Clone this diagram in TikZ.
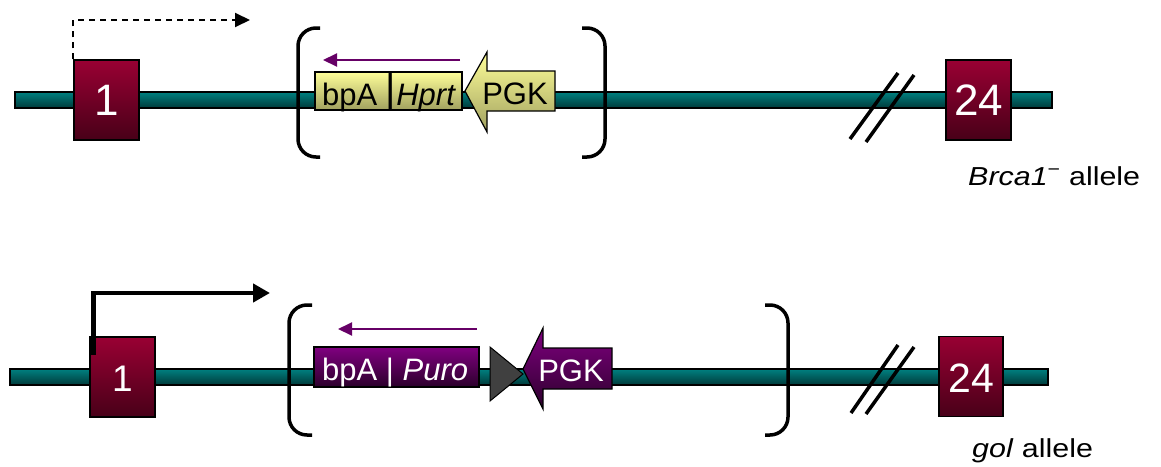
\documentclass[tikz,border=0pt]{standalone}
\usepackage{fontspec}
\usepackage{graphicx}
\setmainfont{Liberation Sans}
\usetikzlibrary{arrows.meta}
\definecolor{tealA}{RGB}{0,128,128}
\definecolor{tealB}{RGB}{0,58,58}
\definecolor{exA}{RGB}{153,0,51}
\definecolor{exB}{RGB}{72,0,24}
\definecolor{yelA}{RGB}{255,255,153}
\definecolor{yelB}{RGB}{160,160,95}
\definecolor{purA}{RGB}{128,0,128}
\definecolor{purB}{RGB}{43,0,43}
\definecolor{arrpur}{RGB}{102,0,102}
\definecolor{loxgray}{RGB}{64,64,64}
\newcommand{\fsz}[1]{\fontsize{#1}{#1}\selectfont}
\begin{document}
\begin{tikzpicture}[x=1pt,y=-1pt,
  dna/.style={draw=black, line width=1.5pt, top color=tealA, bottom color=tealB, inner sep=0, minimum height=16pt},
  exon/.style={draw=black, line width=1.5pt, top color=exA, bottom color=exB, inner sep=0, minimum width=65pt, minimum height=80pt},
  exnum/.style={text=white, inner sep=0},
  bracketline/.style={line width=3.5pt, rounded corners=18pt},
  slashline/.style={line width=3.5pt},
  yelbox/.style={draw=black, line width=1.2pt, top color=yelA, bottom color=yelB, inner sep=0},
  purbox/.style={draw=black, line width=1.2pt, top color=purA, bottom color=purB, inner sep=0},
  purarrow/.style={draw=arrpur, line width=2pt, -{Triangle[length=14pt,width=13pt]}},
  boxtext/.style={anchor=base west, inner sep=0},
  labeltext/.style={anchor=base west, inner sep=0},
]
\useasboundingbox (0,0) rectangle (1161,466);

% ---------------- Top allele ----------------
\node[dna, minimum width=1037pt] (dnaA) at (533.5,100) {};
\node[exon] (ex1a) at (106.5,100) {};
\node[exnum] (n1a) at (106.5,100) {\fsz{44}1};
\node[exon] (ex24a) at (978.5,100) {};
\node[exnum] (n24a) at (978.5,100) {\fsz{44}24};

\coordinate (tipA) at (250,20);
\draw[line width=2pt, dash pattern=on 6pt off 5pt, -{Triangle[length=15pt,width=14pt]}] (ex1a.north west) |- (tipA);

\draw[bracketline] (320,28) -- (298,28) -- (298,157) -- (320,157);
\draw[bracketline] (582,28) -- (605,28) -- (605,157) -- (582,157);

\coordinate (paAs) at (460,60);
\coordinate (paAe) at (323,60);
\draw[purarrow] (paAs) -- (paAe);

\node[yelbox, minimum width=147pt, minimum height=38pt] (hprt) at (388.5,91) {};
\node[boxtext] (hprttext) at (322,105) {\fsz{31}bpA \raisebox{3pt}{\fsz{40}|}\textit{Hprt}};
\draw[line width=1.2pt, top color=yelA, bottom color=yelB] (465,91) -- (487,52) -- (487,71) -- (555,71) -- (555,111) -- (487,111) -- (487,132) -- cycle;
\node[inner sep=0, anchor=base] (pgkA) at (515,104) {\fsz{31}PGK};

\draw[slashline] (850,139) -- (898,73);
\draw[slashline] (866,142) -- (914,75);

\node[labeltext] (labA) at (968,185) {\fsz{26}\scalebox{1.17}[1]{\textit{Brca1}\textsuperscript{−} allele}};

% ---------------- Bottom allele ----------------
\node[dna, minimum width=1038pt] (dnaB) at (529,377) {};
\node[exon] (ex1b) at (122.5,377) {};
\node[exnum] (n1b) at (122.5,379) {\fsz{37}1};
\node[exon, minimum width=64pt] (ex24b) at (971,376.5) {};
\node[exnum] (n24b) at (971,378) {\fsz{41}24};

\coordinate (tssB) at (93.5,355);
\coordinate (tipB) at (270,293);
\draw[line width=4.5pt, -{Triangle[length=17pt,width=18pt]}] (tssB) |- (tipB);

\draw[bracketline] (312,305) -- (289,305) -- (289,435) -- (312,435);
\draw[bracketline] (765,305) -- (788,305) -- (788,435) -- (765,435);

\coordinate (paBs) at (477,329);
\coordinate (paBe) at (338,329);
\draw[purarrow] (paBs) -- (paBe);

\node[purbox, minimum width=165pt, minimum height=40pt] (puro) at (396.5,367) {};
\node[boxtext, text=white] (purotext) at (322,380) {\fsz{31}bpA | \textit{Puro}};

\draw[line width=1pt, fill=loxgray] (490,347) -- (523,374) -- (490,401) -- cycle;
\draw[line width=1.2pt, top color=purA, bottom color=purB] (523,369) -- (543,328) -- (543,348) -- (612,348) -- (612,389) -- (543,389) -- (543,409) -- cycle;
\node[inner sep=0, anchor=base, text=white] (pgkB) at (571,381) {\fsz{31}PGK};

\draw[slashline] (851,413) -- (898,345);
\draw[slashline] (866,414) -- (914,347);

\node[labeltext] (labB) at (972,457) {\fsz{26}\scalebox{1.17}[1]{\textit{gol} allele}};
\end{tikzpicture}
\end{document}
